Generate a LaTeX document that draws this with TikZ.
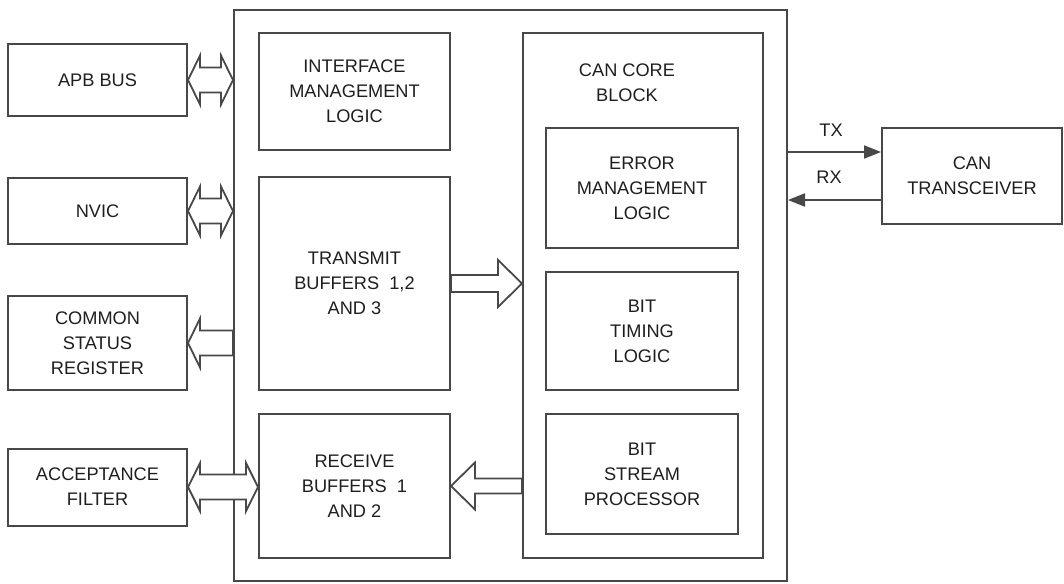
\documentclass[tikz,border=0pt]{standalone}
\usepackage{fontspec}
\setmainfont{Liberation Sans}
\usetikzlibrary{calc,arrows.meta}
\definecolor{linec}{RGB}{72,72,72}
\definecolor{textc}{RGB}{30,30,30}
\newcommand{\myDblArr}[5]{%
  \draw[arrshape] let \p1=#1, \p2=#2 in
    (\x1,\y1) -- (\x1+#5,\y1+#4) -- (\x1+#5,\y1+#3) -- (\x2-#5,\y1+#3) -- (\x2-#5,\y1+#4)
    -- (\x2,\y1) -- (\x2-#5,\y1-#4) -- (\x2-#5,\y1-#3) -- (\x1+#5,\y1-#3) -- (\x1+#5,\y1-#4) -- cycle;}
\newcommand{\myLeftArr}[5]{% #1 tip (left), #2 tail (right)
  \draw[arrshape] let \p1=#1, \p2=#2 in
    (\x1,\y1) -- (\x1+#5,\y1+#4) -- (\x1+#5,\y1+#3) -- (\x2,\y1+#3) -- (\x2,\y1-#3)
    -- (\x1+#5,\y1-#3) -- (\x1+#5,\y1-#4) -- cycle;}
\newcommand{\myRightArr}[5]{% #1 tail (left), #2 tip (right)
  \draw[arrshape] let \p1=#1, \p2=#2 in
    (\x2,\y1) -- (\x2-#5,\y1+#4) -- (\x2-#5,\y1+#3) -- (\x1,\y1+#3) -- (\x1,\y1-#3)
    -- (\x2-#5,\y1-#3) -- (\x2-#5,\y1-#4) -- cycle;}
\begin{document}
\begin{tikzpicture}[x=1pt,y=-1pt,
  blk/.style={draw=linec, line width=2pt, rectangle, inner sep=0pt, align=center,
    text=textc, font=\fontsize{18.2}{25}\selectfont},
  lbl/.style={inner sep=0pt, align=center, text=textc, font=\fontsize{18.2}{25}\selectfont},
  arrshape/.style={draw=linec, line width=1.8pt, fill=white, line join=miter},
  sig/.style={draw=linec, line width=2pt, -{Triangle[length=17pt,width=13pt]}}]
\useasboundingbox (0,0) rectangle (1064,583);
% main block
\node[blk, minimum width=553, minimum height=571] (main) at (510.5,295.5) {};
\node[blk, minimum width=240, minimum height=525] (core) at (643,295.5) {};
\node[lbl] (corelbl) at (627,83) {CAN CORE\\BLOCK};
% inner blocks
\node[blk, minimum width=191, minimum height=117] (iface) at (354.5,91.5) {INTERFACE\\MANAGEMENT\\LOGIC};
\node[blk, minimum width=191, minimum height=213] (tx) at (354.5,283.5) {TRANSMIT\\BUFFERS\ \ 1,2\\AND 3};
\node[blk, minimum width=191, minimum height=144] (rx) at (354.5,486) {RECEIVE\\BUFFERS\ \ 1\\AND 2};
\node[blk, minimum width=192, minimum height=120] (err) at (642,188) {ERROR\\MANAGEMENT\\LOGIC};
\node[blk, minimum width=192, minimum height=118] (bit) at (642,331) {BIT\\TIMING\\LOGIC};
\node[blk, minimum width=192, minimum height=120] (bsp) at (642,474) {BIT\\STREAM\\PROCESSOR};
% outer blocks
\node[blk, minimum width=179, minimum height=72] (apb) at (97.5,80) {APB BUS};
\node[blk, minimum width=179, minimum height=66] (nvic) at (97.5,211) {NVIC};
\node[blk, minimum width=179, minimum height=94] (csr) at (97.5,343) {COMMON\\STATUS\\REGISTER};
\node[blk, minimum width=179, minimum height=77] (acc) at (97.5,487) {ACCEPTANCE\\FILTER};
\node[blk, minimum width=180, minimum height=96] (cant) at (972,176) {CAN\\TRANSCEIVER};
% hollow arrows
\myDblArr{(apb.east)}{(main.west |- apb.east)}{12.5pt}{24.5pt}{12pt}
\myDblArr{(nvic.east)}{(main.west |- nvic.east)}{12.5pt}{24.5pt}{12pt}
\myLeftArr{(csr.east)}{(main.west |- csr.east)}{12.5pt}{24.5pt}{12pt}
\myDblArr{(acc.east)}{(rx.west |- acc.east)}{12.5pt}{24pt}{12pt}
\myRightArr{(tx.east)}{(core.west |- tx.east)}{8.5pt}{23.5pt}{24pt}
\myLeftArr{(rx.east)}{(core.west |- rx.east)}{7.5pt}{23.5pt}{24pt}
% TX / RX
\coordinate (txy) at (0,152);
\coordinate (rxy) at (0,200);
\draw[sig] (main.east |- txy) -- (cant.west |- txy);
\draw[sig] (cant.west |- rxy) -- (main.east |- rxy);
\node[lbl] (txl) at (831,130) {TX};
\node[lbl] (rxl) at (829,177) {RX};
\end{tikzpicture}
\end{document}
